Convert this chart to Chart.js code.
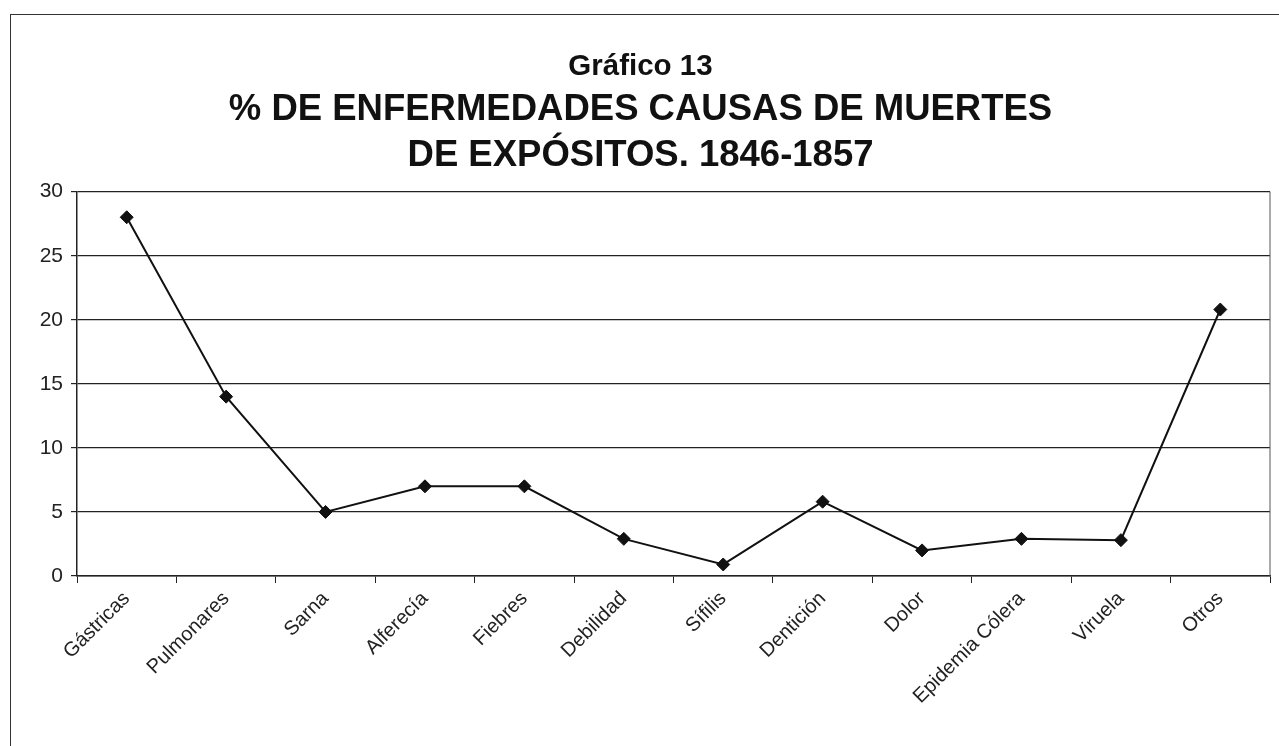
<!DOCTYPE html>
<html>
<head>
<meta charset="utf-8">
<script src="https://cdn.jsdelivr.net/npm/chart.js@4.4.1/dist/chart.umd.min.js"></script>
<style>
  html, body { margin: 0; padding: 0; background: #fff; overflow: hidden; }
  #frame { position: absolute; left: 10px; top: 14px; width: 1300px; height: 731px; border: 1px solid #333; }
</style>
</head>
<body>
<div id="frame"><canvas id="myChart"></canvas></div>
<script>
// Causes of death (categories) and % values
const causes = ["Gástricas", "Pulmonares", "Sarna", "Alferecía", "Fiebres", "Debilidad",
  "Sífilis", "Dentición", "Dolor", "Epidemia Cólera", "Viruela", "Otros"];
const percents = [28, 14, 5, 7, 7, 2.9, 0.9, 5.8, 2, 2.9, 2.8, 20.8];
const yTicks = [0, 5, 10, 15, 20, 25, 30];

// right edge of the plot area (Excel-style frame)
const plotBorder = {
  id: "plotBorder",
  beforeDatasetsDraw(chart) {
    const { ctx, chartArea: a } = chart;
    ctx.save();
    ctx.strokeStyle = "#555";
    ctx.lineWidth = 1;
    ctx.beginPath();
    ctx.moveTo(a.right, a.top);
    ctx.lineTo(a.right, a.bottom);
    ctx.stroke();
    ctx.restore();
  },
};

const ctx = document.getElementById("myChart").getContext("2d");

const myChart = new Chart(ctx, {
  type: "line",
  data: {
    labels: causes,
    datasets: [
      {
        label: "%",
        data: percents,
        borderColor: "#111",
        borderWidth: 2,
        backgroundColor: "#111",
        pointStyle: "rectRot",
        pointRadius: 6.5,
        pointBorderWidth: 1,
        tension: 0,
      },
    ],
  },
  options: {
    responsive: true,
    maintainAspectRatio: false,
    animation: false,
    layout: { padding: { left: 0, right: 41, top: 0, bottom: 0 } },
    plugins: {
      legend: { display: false },
      tooltip: { enabled: false },
      title: {
        display: true,
        text: "Gráfico 13",
        color: "#111",
        font: { family: "'Liberation Sans', Arial, sans-serif", size: 29.5, weight: "bold" },
        padding: { top: 34, bottom: 3 },
      },
      subtitle: {
        display: true,
        text: ["% DE ENFERMEDADES CAUSAS DE MUERTES", "DE EXPÓSITOS. 1846-1857"],
        color: "#111",
        font: { family: "'Liberation Sans', Arial, sans-serif", size: 36.5, weight: "bold", lineHeight: 1.25 },
        padding: { top: 0, bottom: 13 },
      },
    },
    scales: {
      x: {
        offset: true,
        afterFit: (s) => { s.height = 170; },
        grid: { display: true, drawOnChartArea: false, offset: true, tickLength: 7, color: "#222" },
        border: { display: true, color: "#222", width: 1.5 },
        ticks: {
          autoSkip: false,
          minRotation: 45,
          maxRotation: 45,
          padding: 4,
          color: "#222",
          font: { family: "'Liberation Sans', Arial, sans-serif", size: 20 },
        },
      },
      y: {
        min: 0,
        max: 30,
        afterFit: (s) => { s.width = 66; },
        afterBuildTicks: (s) => { s.ticks = yTicks.map((v) => ({ value: v })); },
        grid: { color: "#222", lineWidth: 1.2, tickLength: 6 },
        border: { display: true, color: "#222", width: 1.5 },
        ticks: {
          padding: 8,
          color: "#222",
          font: { family: "'Liberation Sans', Arial, sans-serif", size: 21 },
        },
      },
    },
  },
  plugins: [plotBorder],
});
</script>
</body>
</html>
